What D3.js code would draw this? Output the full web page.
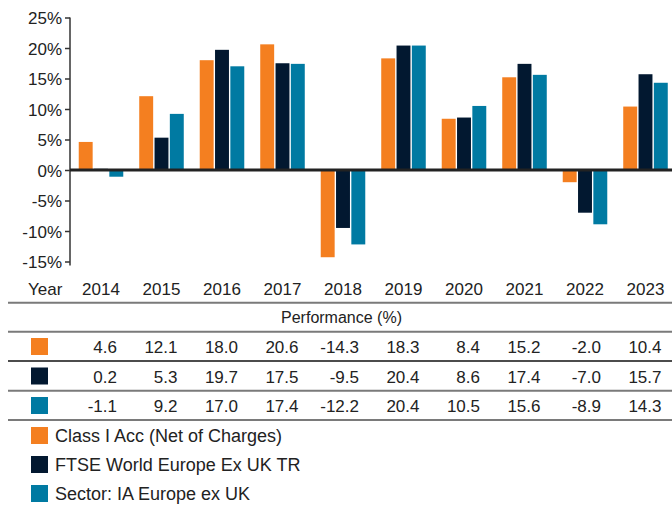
<!DOCTYPE html>
<html>
<head>
<meta charset="utf-8">
<script src="https://cdn.jsdelivr.net/npm/d3@7"></script>
<style>
	body { margin: 0; background: #fff; }
	svg { display: block; font-family: "Liberation Sans", Arial, sans-serif; }
	.axis text { font-size: 17px; fill: #222; }
	.axis path, .axis line { stroke: #333; stroke-width: 1.5; }
</style>
</head>
<body>
<div id="chart"></div>
<script>
const years = ['2014', '2015', '2016', '2017', '2018', '2019', '2020', '2021', '2022', '2023'];
const seriesNames = ['Class I Acc (Net of Charges)', 'FTSE World Europe Ex UK TR', 'Sector: IA Europe ex UK'];
const seriesColors = ['#f47f20', '#021830', '#007aa2'];
const fundValues = [4.6, 12.1, 18.0, 20.6, -14.3, 18.3, 8.4, 15.2, -2.0, 10.4];
const indexValues = [0.2, 5.3, 19.7, 17.5, -9.5, 20.4, 8.6, 17.4, -7.0, 15.7];
const sectorValues = [-1.1, 9.2, 17.0, 17.4, -12.2, 20.4, 10.5, 15.6, -8.9, 14.3];
const yTicks = [-15, -10, -5, 0, 5, 10, 15, 20, 25];

const allSeries = [fundValues, indexValues, sectorValues];

const width = 672;
const height = 506;

const svg = d3.select('#chart').append('svg')
	.attr('width', width)
	.attr('height', height);

const x = d3.scaleBand()
	.domain(years)
	.range([70.75, 675.75])
	.paddingInner(0.264)
	.paddingOuter(0.132);

const xInner = d3.scaleBand()
	.domain([0, 1, 2])
	.range([0, x.bandwidth()])
	.paddingInner(0.09);

const y = d3.scaleLinear()
	.domain([-15, 25])
	.range([261.5, 17.5]);

// bars
const groups = svg.append('g').selectAll('g')
	.data(years)
	.enter()
	.append('g')
		.attr('transform', d => `translate(${x(d)}, 0)`);

groups.selectAll('rect')
	.data((d, i) => allSeries.map((s, j) => ({ s: j, v: s[i] })))
	.enter()
	.append('rect')
		.attr('x', d => xInner(d.s))
		.attr('width', xInner.bandwidth())
		.attr('y', d => y(Math.max(0, d.v)))
		.attr('height', d => Math.abs(y(d.v) - y(0)))
		.style('fill', d => seriesColors[d.s]);

// y axis
const yAxis = d3.axisLeft(y)
	.tickValues(yTicks)
	.tickSize(5)
	.tickSizeOuter(0)
	.tickPadding(3)
	.tickFormat(d => `${d}%`);

svg.append('g')
	.attr('class', 'axis')
	.attr('transform', 'translate(70, 0)')
	.call(yAxis)
	.call(g => g.select('.domain').attr('d', `M0,${y(25)}V${y(-15) + 4}`))
	.selectAll('text')
		.attr('dy', '0.36em');

// zero line
svg.append('line')
	.attr('x1', 70)
	.attr('x2', width)
	.attr('y1', y(0))
	.attr('y2', y(0))
	.style('stroke', '#222')
	.style('stroke-width', 3);

// table
const table = svg.append('g')
	.style('font-size', '17px')
	.style('fill', '#222');

table.append('text')
	.attr('x', 28)
	.attr('y', 295)
	.text('Year');

table.selectAll('.year')
	.data(years)
	.enter()
	.append('text')
		.attr('class', 'year')
		.attr('x', d => x(d) + x.bandwidth() / 2)
		.attr('y', 295)
		.style('text-anchor', 'middle')
		.text(d => d);

table.append('text')
	.attr('x', 341.5)
	.attr('y', 322.5)
	.style('font-size', '16px')
	.style('text-anchor', 'middle')
	.text('Performance (%)');

const ruleYs = [302.7, 331.7, 361, 390.7, 420];
table.selectAll('.rule')
	.data(ruleYs)
	.enter()
	.append('line')
		.attr('x1', 8)
		.attr('x2', width)
		.attr('y1', d => d)
		.attr('y2', d => d)
		.style('stroke', (d, i) => i === 2 ? '#111' : '#7a7a7a')
		.style('stroke-width', (d, i) => i === 2 ? 1.5 : 2);

const rowBase = [353, 382.5, 412];
allSeries.forEach((s, j) => {
	table.append('rect')
		.attr('x', 31)
		.attr('y', rowBase[j] - 15)
		.attr('width', 17)
		.attr('height', 17)
		.style('fill', seriesColors[j]);
	table.selectAll(`.val${j}`)
		.data(s)
		.enter()
		.append('text')
			.attr('class', `val${j}`)
			.attr('x', (d, i) => x(years[i]) + x.bandwidth() / 2 + 16)
			.attr('y', rowBase[j])
			.style('text-anchor', 'end')
			.text(d => d.toFixed(1));
});

// legend
const legend = svg.append('g')
	.selectAll('g')
	.data(seriesNames)
	.enter()
	.append('g')
		.attr('transform', (d, i) => `translate(31, ${427 + i * 29})`);

legend.append('rect')
	.attr('width', 17)
	.attr('height', 17)
	.style('fill', (d, i) => seriesColors[i]);

legend.append('text')
	.attr('x', 24)
	.attr('y', 14.5)
	.style('font-size', '18px')
	.style('fill', '#222')
	.text(d => d);
</script>
</body>
</html>
